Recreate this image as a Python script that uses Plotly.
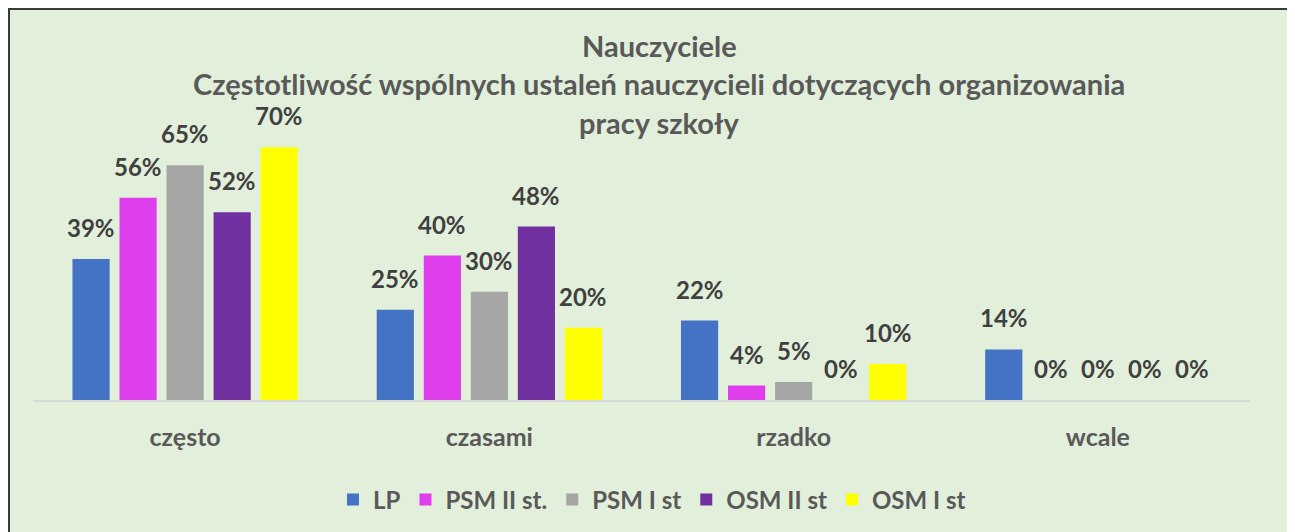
import plotly.graph_objects as go

categories = ["często", "czasami", "rzadko", "wcale"]
series_names = ["LP", "PSM II st.", "PSM I st", "OSM II st", "OSM I st"]
lp = [0.39, 0.25, 0.22, 0.14]
psm2 = [0.56, 0.40, 0.04, 0.0]
psm1 = [0.65, 0.30, 0.05, 0.0]
osm2 = [0.52, 0.48, 0.0, 0.0]
osm1 = [0.70, 0.20, 0.10, 0.0]
series_values = [lp, psm2, psm1, osm2, osm1]
colors = ["#4472C4", "#DE3EEC", "#A5A5A5", "#7030A0", "#FFFF00"]
title_lines = ["Nauczyciele",
               "Częstotliwość wspólnych ustaleń nauczycieli dotyczących organizowania",
               "pracy szkoły"]

FONT = "Lato"
TXT = "#595959"
LBL = "#404040"
OFF = 8  # page body margin

W, H = 1295, 532
# target plot area in page pixels: x 33..1250, y 111..400
L = 33 - OFF
T = 111 - OFF
R = W - (1250 - OFF)
B = H - (400 - OFF)
pw, ph = W - L - R, H - T - B
BARGAP, GROUPGAP = 0.227, 0.21
slot_px = pw / len(categories) * (1 - BARGAP) / len(series_names)

def fx(xfig):  # figure px -> paper
    return (xfig - L) / pw

def fy(yfig):
    return (H - B - yfig) / ph

fig = go.Figure()
annotations = []
for i, (name, vals, col) in enumerate(zip(series_names, series_values, colors)):
    fig.add_trace(go.Bar(
        x=categories, y=vals, name=name,
        marker=dict(color=col, line=dict(width=0)),
    ))
    for cat, v in zip(categories, vals):
        annotations.append(dict(
            x=cat, y=v, xref="x", yref="y", text=f"<b>{round(v*100)}%</b>",
            showarrow=False, xanchor="center", yanchor="bottom",
            xshift=(i - (len(series_names) - 1) / 2) * slot_px, yshift=15,
            font=dict(family=FONT, size=24, color=LBL)))

shapes = [dict(type="rect", xref="paper", yref="paper",
               x0=fx(1), x1=fx(1282), y0=fy(H + 20), y1=fy(1),
               fillcolor="#E2EFDA", line=dict(color="#3A3A3A", width=2),
               layer="below")]

for line, ypix in zip(title_lines, [45, 83, 122]):
    annotations.append(dict(text=f"<b>{line}</b>", x=fx(659 - OFF), y=fy(ypix - OFF),
                            xref="paper", yref="paper", showarrow=False,
                            xanchor="center", yanchor="middle",
                            font=dict(family=FONT, size=29, color=TXT)))

fig.update_layout(
    width=W, height=H,
    margin=dict(l=L, r=R, t=T, b=B, autoexpand=False),
    paper_bgcolor="white", plot_bgcolor="rgba(0,0,0,0)",
    barmode="group", bargap=BARGAP, bargroupgap=GROUPGAP,
    shapes=shapes, annotations=annotations,
    showlegend=True,
    legend=dict(orientation="h", x=fx(652 - OFF), xanchor="center",
                y=fy(500 - OFF), yanchor="middle",
                font=dict(family=FONT, size=24, color=TXT, weight="bold"),
                bgcolor="rgba(0,0,0,0)"),
    xaxis=dict(showgrid=False, showline=True, linecolor="#D9D9D9", linewidth=2,
               ticks="", tickfont=dict(family=FONT, size=25, color=TXT, weight="bold"),
               ticklabelstandoff=14),
    yaxis=dict(range=[0, 0.8], visible=False, showgrid=False, zeroline=False),
)

fig.write_html("out.html")
